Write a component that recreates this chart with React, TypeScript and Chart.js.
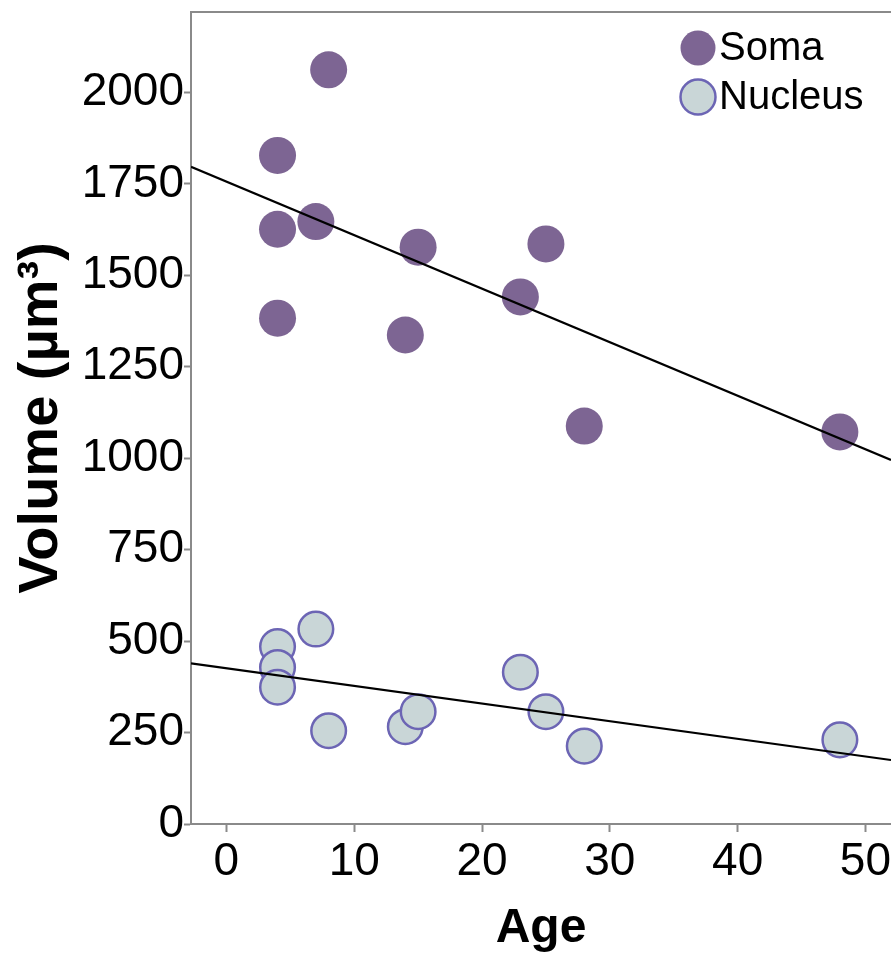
import React, { useEffect, useRef } from 'react';
import { Chart, registerables } from 'chart.js';

Chart.register(...registerables);

// ---- data ----
const somaAge = [4, 4, 4, 7, 8, 14, 15, 23, 25, 28, 48];
const somaVolume = [1828, 1626, 1383, 1647, 2062, 1337, 1577, 1441, 1586, 1088, 1072];
const nucleusAge = [4, 4, 4, 7, 8, 14, 15, 23, 25, 28, 48];
const nucleusVolume = [485, 428, 374, 533, 255, 266, 307, 415, 307, 213, 230];

const somaFitAge = [-2.77, 52];
const somaFitVolume = [1797, 995];
const nucleusFitAge = [-2.77, 52];
const nucleusFitVolume = [439, 175];

const xTicks = [0, 10, 20, 30, 40, 50];
const yTicks = [0, 250, 500, 750, 1000, 1250, 1500, 1750, 2000];

const xMin = -2.77;
const xMax = 52;
const yMin = 0;
const yMax = 2220;

const SOMA_FILL = '#7d6593';
const NUC_FILL = '#c9d6d7';
const NUC_BORDER = '#6c65b4';
const AXIS = '#8a8a8a';
const FONT = "'Liberation Sans', Arial, sans-serif";

const W = 891;
const H = 959;

const toPoints = (xs: number[], ys: number[]) => xs.map((x, i) => ({ x, y: ys[i] }));

const topBorderPlugin = {
  id: 'topBorder',
  afterDraw(chart: any) {
    const { ctx, chartArea } = chart;
    ctx.save();
    ctx.strokeStyle = AXIS;
    ctx.lineWidth = 2;
    ctx.beginPath();
    ctx.moveTo(chartArea.left, chartArea.top);
    ctx.lineTo(chartArea.right, chartArea.top);
    ctx.stroke();
    ctx.restore();
  },
};

const legendPlugin = {
  id: 'insideLegend',
  afterDraw(chart: any) {
    const { ctx, chartArea } = chart;
    const items = chart.data.datasets.filter((d: any) => d.inLegend);
    const cx = chartArea.right - 193;
    let cy = chartArea.top + 36;
    ctx.save();
    items.forEach((d: any) => {
      ctx.beginPath();
      ctx.arc(cx, cy, 17.5, 0, Math.PI * 2);
      ctx.fillStyle = d.backgroundColor;
      ctx.fill();
      if (d.borderWidth > 0) {
        ctx.lineWidth = d.borderWidth;
        ctx.strokeStyle = d.borderColor;
        ctx.stroke();
      }
      ctx.fillStyle = '#000';
      ctx.font = `40px ${FONT}`;
      ctx.textBaseline = 'middle';
      ctx.textAlign = 'left';
      ctx.fillText(d.label, cx + 21, cy + 1);
      cy += 49;
    });
    ctx.restore();
  },
};

export default function App() {
  const ref = useRef<HTMLCanvasElement | null>(null);

  useEffect(() => {
    document.body.style.margin = '0';
    document.body.style.overflow = 'hidden';
    if (!ref.current) return;
    const chart = new Chart(ref.current, {
      type: 'scatter',
      data: {
        datasets: [
          {
            label: 'Soma fit',
            type: 'line',
            data: toPoints(somaFitAge, somaFitVolume),
            borderColor: '#000',
            borderWidth: 2.2,
            pointRadius: 0,
            fill: false,
            order: 0,
          } as any,
          {
            label: 'Nucleus fit',
            type: 'line',
            data: toPoints(nucleusFitAge, nucleusFitVolume),
            borderColor: '#000',
            borderWidth: 2.2,
            pointRadius: 0,
            fill: false,
            order: 0,
          } as any,
          {
            label: 'Soma',
            inLegend: true,
            data: toPoints(somaAge, somaVolume),
            backgroundColor: SOMA_FILL,
            borderColor: SOMA_FILL,
            borderWidth: 0,
            pointRadius: 18.5,
            order: 1,
          } as any,
          {
            label: 'Nucleus',
            inLegend: true,
            data: toPoints(nucleusAge, nucleusVolume),
            backgroundColor: NUC_FILL,
            borderColor: NUC_BORDER,
            borderWidth: 2.5,
            pointRadius: 17.3,
            order: 1,
          } as any,
        ],
      },
      options: {
        animation: false,
        responsive: false,
        maintainAspectRatio: false,
        devicePixelRatio: 1,
        layout: { autoPadding: false, padding: { top: 12, right: 0, left: 0, bottom: 0 } },
        plugins: {
          legend: { display: false },
          tooltip: { enabled: false },
        },
        scales: {
          x: {
            type: 'linear',
            min: xMin,
            max: xMax,
            afterBuildTicks: (scale: any) => {
              scale.ticks = xTicks.map((v) => ({ value: v }));
            },
            afterFit: (scale: any) => {
              scale.height = 135;
              scale.paddingRight = 0;
              scale.paddingLeft = 0;
            },
            grid: {
              drawOnChartArea: false,
              drawTicks: true,
              tickLength: 8,
              tickColor: AXIS,
              tickWidth: 2,
            },
            border: { display: true, color: AXIS, width: 2 },
            ticks: {
              color: '#000',
              font: { family: FONT, size: 46 },
              padding: 3,
              maxRotation: 0,
              callback: (v: any) => String(v),
            },
            title: {
              display: true,
              text: 'Age',
              color: '#000',
              font: { family: FONT, size: 48, weight: 'bold' },
              padding: { top: 0, bottom: 1 },
            },
          },
          y: {
            type: 'linear',
            min: yMin,
            max: yMax,
            afterBuildTicks: (scale: any) => {
              scale.ticks = yTicks.map((v) => ({ value: v }));
            },
            afterFit: (scale: any) => {
              scale.width = 191;
              scale.paddingTop = 0;
              scale.paddingBottom = 0;
            },
            grid: {
              drawOnChartArea: false,
              drawTicks: true,
              tickLength: 7,
              tickColor: AXIS,
              tickWidth: 2,
            },
            border: { display: true, color: AXIS, width: 2 },
            ticks: {
              color: '#000',
              font: { family: FONT, size: 46 },
              padding: 0,
              callback: (v: any) => String(v),
            },
            title: {
              display: true,
              text: 'Volume (µm³)',
              color: '#000',
              font: { family: FONT, size: 56, weight: 'bold' },
              padding: { top: 8, bottom: 0 },
            },
          },
        },
      },
      plugins: [topBorderPlugin, legendPlugin],
    });
    return () => chart.destroy();
  }, []);

  return (
    <div style={{ position: 'absolute', left: 0, top: 0, width: W, height: H, background: '#fff', overflow: 'hidden' }}>
      <canvas ref={ref} width={W} height={H} style={{ display: 'block', width: W, height: H }} />
    </div>
  );
}
